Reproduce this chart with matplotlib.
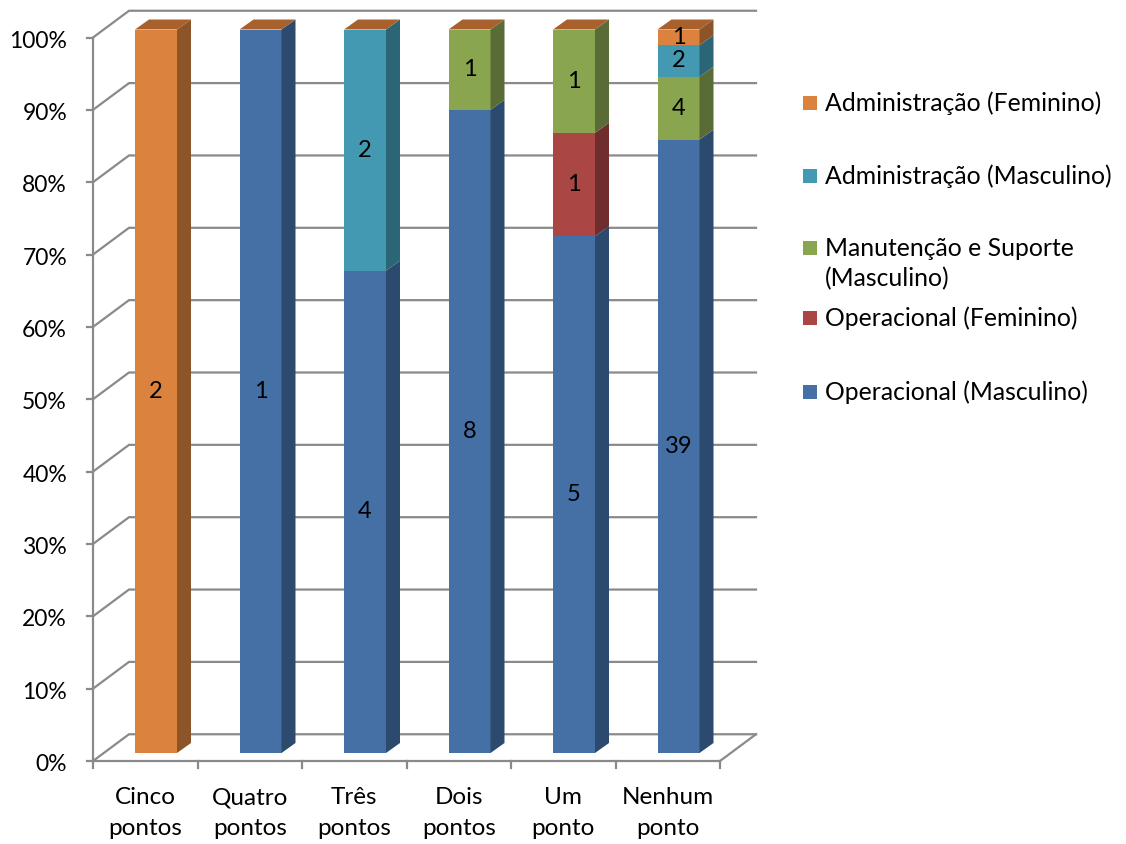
import matplotlib
matplotlib.use("Agg")
import matplotlib.pyplot as plt
from matplotlib.patches import Polygon, Rectangle

# ---------------- data ----------------
categories = ["Cinco\npontos", "Quatro\npontos", "Três\npontos",
              "Dois\npontos", "Um\nponto", "Nenhum\nponto"]
# stacked bottom -> top
op_masc = [0, 1, 4, 8, 5, 39]
op_fem = [0, 0, 0, 0, 1, 0]
manut_masc = [0, 0, 0, 1, 1, 4]
adm_masc = [0, 0, 2, 0, 0, 2]
adm_fem = [2, 0, 0, 0, 0, 1]
series_names = ["Operacional (Masculino)", "Operacional (Feminino)",
                "Manutenção e Suporte\n(Masculino)", "Administração (Masculino)",
                "Administração (Feminino)"]
y_ticks = [0, 10, 20, 30, 40, 50, 60, 70, 80, 90, 100]
y_tick_labels = ["0%", "10%", "20%", "30%", "40%", "50%", "60%", "70%",
                 "80%", "90%", "100%"]

series = [op_masc, op_fem, manut_masc, adm_masc, adm_fem]
front_colors = ["#4470A6", "#AA4644", "#8AA54F", "#4399B2", "#DA823E"]
side_colors = ["#2C4A6E", "#6F2E2D", "#5A6C35", "#2A6676", "#8C5428"]
top_color = "#A8612C"
grid_color = "#8A8A8A"

plt.rcParams["font.family"] = ["Lato", "DejaVu Sans"]
FS_TICK = 16.5
FS_CAT = 17.5
FS_LEG = 17.8
FS_LAB = 17

W, H = 1126, 844
fig = plt.figure(figsize=(W / 100, H / 100), dpi=100)
fig.patch.set_facecolor("white")

# axes = the plane of the bar front faces
ax_left, ax_right, ax_top, ax_bot = 103.75, 730.75, 29.5, 753.0
ax = fig.add_axes([ax_left / W, (H - ax_bot) / H,
                   (ax_right - ax_left) / W, (ax_bot - ax_top) / H])
n = len(categories)
ax.set_xlim(-0.5, n - 0.5)
ax.set_ylim(0, 100)
ax.axis("off")

px_x = (ax_right - ax_left) / n      # pixels per category unit
px_y = (ax_bot - ax_top) / 100.0     # pixels per percent

# 3D offsets (pixels -> data units)
fdx, fdy = -10.75 / px_x, -8.0 / px_y     # front plane (axes)
bdx, bdy = 25.25 / px_x, 18.75 / px_y     # back wall
ddx, ddy = 14.0 / px_x, 10.0 / px_y       # bar depth
half_w = 21.0 / px_x

lw = 1.6
# gridlines: slanted left wall segment + back wall line
for v in y_ticks:
    ax.plot([-0.5 + fdx, -0.5 + bdx, n - 0.5 + bdx],
            [v + fdy, v + bdy, v + bdy], color=grid_color, lw=lw,
            clip_on=False, zorder=1, solid_joinstyle="miter")
# floor right edge
ax.plot([n - 0.5 + fdx, n - 0.5 + bdx], [fdy, bdy], color=grid_color, lw=lw,
        clip_on=False, zorder=1)
# front axis lines
ax.plot([-0.5 + fdx, -0.5 + fdx], [fdy, 100 + fdy], color=grid_color, lw=lw,
        clip_on=False, zorder=2)
ax.plot([-0.5 + fdx, n - 0.5 + fdx], [fdy, fdy], color=grid_color, lw=lw,
        clip_on=False, zorder=2)
# y ticks + labels
for v, lab in zip(y_ticks, y_tick_labels):
    ax.plot([-0.5 + fdx - 6 / px_x, -0.5 + fdx], [v + fdy, v + fdy],
            color=grid_color, lw=lw, clip_on=False, zorder=2)
    ax.text(-0.5 + fdx - 26 / px_x, v + fdy - 10 / px_y, lab, ha="right",
            va="baseline", fontsize=FS_TICK, color="black", clip_on=False)
# x ticks
for k in range(n + 1):
    ax.plot([k - 0.5 + fdx, k - 0.5 + fdx], [fdy, fdy - 7 / px_y],
            color=grid_color, lw=lw, clip_on=False, zorder=2)
# category labels
for i, cat in enumerate(categories):
    for j, line in enumerate(cat.split("\n")):
        ax.text(i + fdx, fdy - (43 + 31 * j) / px_y, line, ha="center",
                va="baseline", fontsize=FS_CAT, color="black", clip_on=False)

# bars
for i in range(n):
    total = sum(s[i] for s in series)
    bottom = 0.0
    for s, fc, sc in zip(series, front_colors, side_colors):
        val = s[i]
        if val <= 0:
            continue
        h = val / total * 100.0
        ax.add_patch(Rectangle((i - half_w, bottom), 2 * half_w, h,
                               facecolor=fc, edgecolor="none", zorder=3,
                               clip_on=False))
        ax.add_patch(Polygon([(i + half_w, bottom),
                              (i + half_w + ddx, bottom + ddy),
                              (i + half_w + ddx, bottom + h + ddy),
                              (i + half_w, bottom + h)],
                             closed=True, facecolor=sc, edgecolor="none",
                             zorder=3, clip_on=False))
        ax.text(i, bottom + h / 2, str(val), ha="center", va="center",
                fontsize=FS_LAB, color="black", zorder=6)
        bottom += h
    ax.add_patch(Polygon([(i - half_w, 100), (i + half_w, 100),
                          (i + half_w + ddx, 100 + ddy),
                          (i - half_w + ddx, 100 + ddy)],
                         closed=True, facecolor=top_color, edgecolor="none",
                         zorder=3, clip_on=False))

# legend (reverse order), drawn in a full-figure pixel overlay
lg = fig.add_axes([0, 0, 1, 1])
lg.set_xlim(0, W)
lg.set_ylim(H, 0)
lg.axis("off")
lg.patch.set_alpha(0)
slot_y = [103, 176, 248, 318, 392]
for k, idx in enumerate(range(len(series) - 1, -1, -1)):
    yc = slot_y[k]
    lg.add_patch(Rectangle((803, yc - 7), 14, 14, facecolor=front_colors[idx],
                           edgecolor="none"))
    for j, line in enumerate(series_names[idx].split("\n")):
        lg.text(825, yc + 8 + 30 * j, line, ha="left", va="baseline",
                fontsize=FS_LEG, color="black")

fig.savefig("out.png", dpi=100)
